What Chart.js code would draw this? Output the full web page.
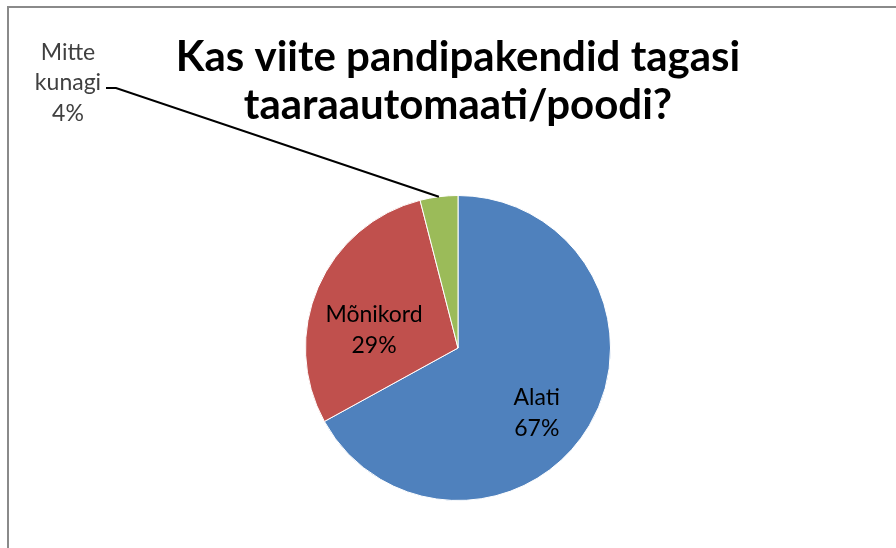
<!DOCTYPE html>
<html>
<head>
<meta charset="utf-8">
<script src="https://cdn.jsdelivr.net/npm/chart.js@4"></script>
<style>
  html, body { margin: 0; padding: 0; background: #fff; }
  #wrap { position: relative; width: 896px; height: 548px; overflow: hidden; }
  #frame { position: absolute; left: 7px; top: 6px; width: 900px; height: 560px;
           border-top: 2px solid #8a8a8a; border-left: 2px solid #8a8a8a; }
  canvas { position: absolute; left: 0; top: 0; }
</style>
</head>
<body>
<div id="wrap">
  <div id="frame"></div>
  <canvas id="pieChart" width="896" height="548"></canvas>
</div>
<script>
const titleLines = ["Kas viite pandipakendid tagasi", "taaraautomaati/poodi?"];
const labels = ["Alati", "Mõnikord", "Mitte kunagi"];
const values = [67, 29, 4];
const colors = ["#4F81BD", "#C0504D", "#9BBB59"];

const labelFont = "23px Lato, 'Open Sans', sans-serif";

// draws the title and the data labels (Excel style)
const pieLabels = {
  id: "pieLabels",
  afterDraw(chart) {
    const ctx = chart.ctx;
    const meta = chart.getDatasetMeta(0);
    ctx.save();

    ctx.fillStyle = "#000";
    ctx.textAlign = "center";
    ctx.textBaseline = "middle";
    ctx.font = "bold 42px Lato, 'Open Sans', sans-serif";
    titleLines.forEach((t, i) => ctx.fillText(t, 458, 57 + i * 48));

    ctx.font = labelFont;
    meta.data.forEach((arc, i) => {
      const p = arc.getProps(["x", "y", "startAngle", "endAngle", "outerRadius"], true);
      const mid = (p.startAngle + p.endAngle) / 2;
      const pct = values[i] + "%";
      if (i < 2) {
        const d = p.outerRadius * 0.6;
        const x = p.x + Math.cos(mid) * d;
        const y = p.y + Math.sin(mid) * d + 18;
        ctx.fillText(labels[i], x, y - 15);
        ctx.fillText(pct, x, y + 16);
      } else {
        const ex = p.x + Math.cos(mid) * p.outerRadius;
        const ey = p.y + Math.sin(mid) * p.outerRadius;
        ctx.fillStyle = "#404040";
        ctx.fillText("Mitte", 68, 53);
        ctx.fillText("kunagi", 68, 83);
        ctx.fillText(pct, 68, 114);
        ctx.strokeStyle = "#000";
        ctx.lineWidth = 2;
        ctx.beginPath();
        ctx.moveTo(106, 88);
        ctx.lineTo(116, 88);
        ctx.lineTo(ex, ey);
        ctx.stroke();
      }
    });
    ctx.restore();
  }
};

new Chart(document.getElementById("pieChart"), {
  type: "pie",
  data: {
    labels: labels,
    datasets: [{
      data: values,
      backgroundColor: colors,
      borderColor: "#ffffff",
      borderWidth: 1
    }]
  },
  options: {
    responsive: false,
    animation: false,
    layout: { padding: { left: 305, right: 285, top: 195, bottom: 47 } },
    plugins: {
      legend: { display: false },
      tooltip: { enabled: false },
      title: { display: false }
    }
  },
  plugins: [pieLabels]
});
</script>
</body>
</html>
